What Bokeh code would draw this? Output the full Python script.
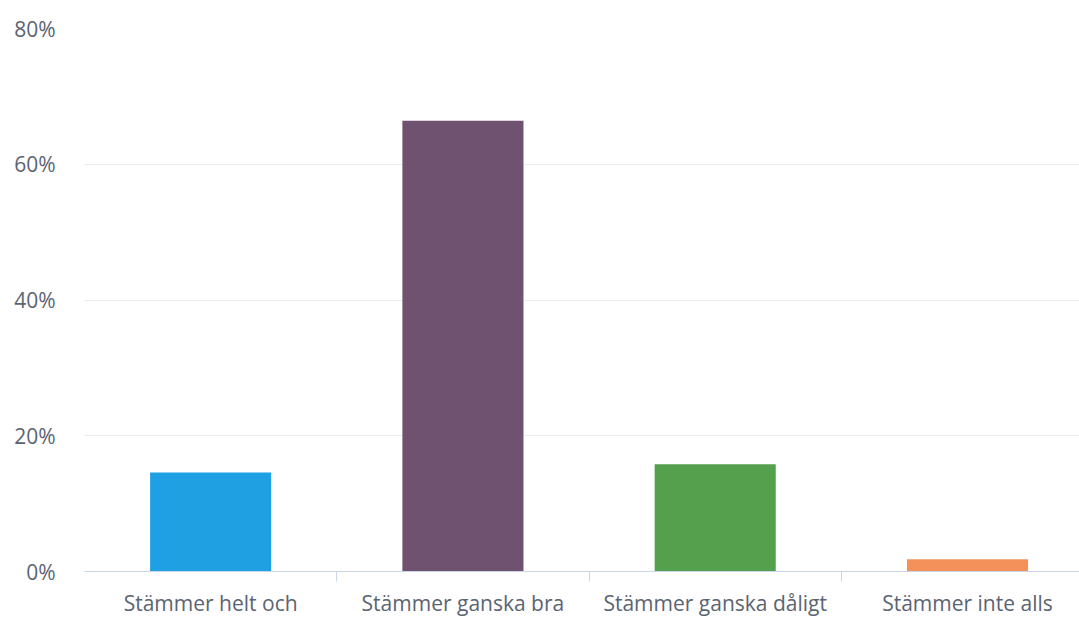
from bokeh.plotting import figure
from bokeh.models import FixedTicker, Range1d, ColumnDataSource
from bokeh.embed import file_html
from bokeh.resources import INLINE

categories = ["Stämmer helt och", "Stämmer ganska bra", "Stämmer ganska dåligt", "Stämmer inte alls"]
values = [14.6, 66.4, 15.8, 1.8]
colors = ["#1ea0e2", "#6e5270", "#55a04c", "#f4915a"]
y_ticks = [0, 20, 40, 60, 80]

x_pos = [i + 0.5 for i in range(len(categories))]
src = ColumnDataSource(dict(x=x_pos, top=values, color=colors))

p = figure(width=1079, height=619, output_backend="svg", toolbar_location=None,
           x_range=Range1d(0, 3.944), y_range=Range1d(0, 80),
           min_border_left=84, min_border_right=0, min_border_top=28, min_border_bottom=48)
p.outline_line_color = None
p.background_fill_color = "white"

p.vbar(x="x", top="top", bottom=0, width=0.48, color="color", source=src, line_color=None)

# x axis
p.xaxis.ticker = FixedTicker(ticks=x_pos, minor_ticks=[1, 2, 3])
p.xaxis.major_label_overrides = {x: c for x, c in zip(x_pos, categories)}
p.xaxis.major_tick_line_color = None
p.xaxis.minor_tick_line_color = "#ccd6eb"
p.xaxis.minor_tick_out = 10
p.xaxis.minor_tick_in = 0
p.xaxis.axis_line_color = "#ccd6eb"
p.xaxis.major_label_text_font = "Open Sans"
p.xaxis.major_label_text_font_size = "21px"
p.xaxis.major_label_text_color = "#5b6472"
p.xaxis.major_label_standoff = 7
p.xgrid.grid_line_color = None

# y axis
p.yaxis.ticker = FixedTicker(ticks=y_ticks)
p.yaxis.major_label_overrides = {t: f"{t}%" for t in y_ticks}
p.yaxis.axis_line_color = None
p.yaxis.major_tick_line_color = None
p.yaxis.minor_tick_line_color = None
p.yaxis.major_tick_out = 0
p.yaxis.major_label_text_font = "Open Sans"
p.yaxis.major_label_text_font_size = "21px"
p.yaxis.major_label_text_color = "#5b6472"
p.yaxis.major_label_standoff = 29
p.ygrid.grid_line_color = "#ececec"
p.ygrid.grid_line_width = 1

open("out.html", "w").write(file_html(p, INLINE))
